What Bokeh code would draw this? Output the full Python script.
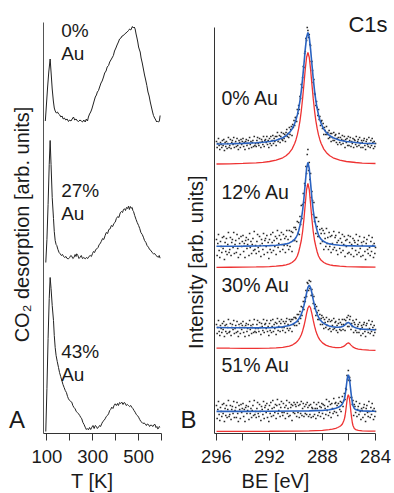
import numpy as np
from bokeh.plotting import figure
from bokeh.models import Range1d, FixedTicker, Label
from bokeh.layouts import row
from bokeh.embed import file_html
from bokeh.resources import INLINE

FONT = "Liberation Sans"
INK = "#1a1a1a"

# ---------------- Panel A: CO2 TPD ----------------
tpd_names = [("0%", "Au"), ("27%", "Au"), ("43%", "Au")]
tpd_offset = [311.5, 174.0, 0.0]
tpd_ticks = [100, 200, 300, 400, 500, 600]
tpd_tick_labels = {100: "100", 200: "", 300: "300", 400: "", 500: "500", 600: ""}

tpd0_T = [93, 98, 103, 108, 114, 118, 123, 128, 132, 136, 141, 146, 151, 156, 161, 166, 171, 176, 182, 188,
          194, 199, 205, 210, 216, 221, 227, 233, 238, 244, 250, 255, 261, 267, 272, 277, 281, 286, 291, 296,
          301, 306, 311, 316, 320, 325, 330, 336, 341, 347, 352, 358, 363, 369, 374, 379, 384, 390, 395, 401,
          406, 412, 417, 423, 428, 434, 439, 445, 450, 456, 461, 466, 470, 473, 477, 481, 485, 489, 493, 496.5,
          500, 504, 507, 511, 516, 521, 526, 531, 536, 541, 546, 551, 556, 561, 565, 570, 575, 579, 583, 587,
          590, 592, 594]
tpd0_s = [1, 18, 35, 50, 63, 50, 33, 21, 14, 11, 9, 10, 8, 7, 5, 6, 3, 4, 2, 3,
          0.5, 2, 1, 3, 5, 2, 3, 1, 0.5, 2, 1, 0, 2, 0, 3, 1, 5, 8, 10, 13,
          17, 21, 25, 27, 30, 31.5, 35, 39, 41, 45, 49, 51, 55, 56.5, 60, 62, 64, 66.5, 71, 74,
          77, 80, 83, 84, 86, 86.5, 88, 89, 90, 91.5, 93, 92, 94, 95.5, 94, 95, 93, 88, 84, 80,
          75, 72, 70, 64, 59, 53, 47, 42, 36.5, 30, 26, 20, 15, 10, 6.5, 4, 2, 0, 1, 0,
          0.5, 3, 6.5]

tpd1_T = [95, 100, 105, 110, 114, 118, 123, 128.6, 132, 136, 140, 143, 148, 153, 158, 163, 168, 172, 177, 183,
          188, 194, 199, 204, 208.5, 213, 218, 223, 227, 230, 235, 240, 245, 250, 255, 261, 267, 272, 278, 283,
          289, 294, 299, 303, 308, 313, 318, 323, 328, 332, 337, 343, 348, 354, 359, 365, 370, 376, 381, 387,
          392, 398, 403, 409, 414, 420, 425, 430, 434, 438.5, 443, 447, 452, 456, 460, 464, 468, 472, 475, 478,
          483, 489, 494, 500, 505, 510, 516, 521, 526, 532, 537, 543, 548, 554, 559, 565, 570, 576, 581, 587,
          590, 594]
tpd1_s = [-3, 20, 55, 95, 119, 95, 62, 41, 28, 19, 15, 14, 10, 7, 5.7, 4, 5, 3.3, 2, 3,
          1, 0.7, 2, 4, 3.3, 1, 2, 5, 3, 5.7, 4, 1, 2.3, 4, 1, 2, 0.7, 2, 1, 3,
          4, 3, 6, 8, 7, 10, 10.7, 12, 15, 15.7, 18, 21, 20, 24, 27, 26, 30, 30.7, 34, 33,
          36, 37.3, 41, 43, 42, 46.7, 48, 47, 50, 50.7, 49, 52, 51, 53.3, 50, 53, 51.3, 52, 49, 48,
          44, 40, 37, 34, 31, 27, 25, 22.3, 19, 17, 14, 12.3, 10, 9, 7, 5.7, 6, 4, 3, 2.3,
          4, 1.3]

tpd2_T = [95, 100, 105, 110, 114, 118, 123, 128.6, 132, 136, 140, 145, 150.5, 155, 160, 165, 170, 175, 180, 185,
          190, 194, 199, 204, 208.5, 213, 218, 223, 228, 233, 238, 243, 248, 252, 257, 262, 267, 272, 276, 281,
          286, 291, 296, 301, 306, 311, 316, 320, 325, 330, 334, 339, 344, 349, 354, 359, 364, 369, 374, 378,
          383, 388, 393, 398, 403, 408, 412, 417, 422, 427, 432, 437, 441.5, 446, 451, 456, 461, 466, 470, 475,
          480, 485, 490, 495, 500, 505, 510, 514, 519, 524, 529, 534, 538, 543, 548, 553, 558, 563, 568, 572,
          576, 580, 583, 587, 590, 594]
tpd2_s = [2, 45, 95, 135, 156, 145, 128, 113, 98, 86, 78, 72, 66, 61, 57, 53, 49, 46, 43, 41,
          37, 34.7, 33, 32, 31.3, 28, 26, 24.7, 22, 21, 19.7, 18, 16, 14.7, 11, 9, 6.3, 4, 5, 3.7,
          6, 4, 6.3, 8, 5, 8, 7, 5, 6.3, 8, 7, 9.7, 12, 13, 14.7, 17, 18, 19.7, 23, 24,
          26.3, 25, 28, 29.7, 28, 30, 28, 31, 30, 31.3, 29, 31, 30.3, 28, 29, 28, 27, 28, 26.3, 25,
          23, 21.3, 19, 18, 16.3, 14, 12, 11.3, 10, 10.5, 9.7, 8, 9.5, 9, 7, 8.5, 8, 7, 9, 9,
          6, 7, 4.7, 5, 7, 6.3]

# ---------------- Panel B: XPS C1s ----------------
xps_names = ["0% Au", "12% Au", "30% Au", "51% Au"]
xps_red_offset = [269, 166, 83, 2]
xps_background = [20, 21, 20.5, 20]
xps_ticks = [296, 294, 292, 290, 288, 286, 284]
xps_tick_labels = {296: "296", 294: "", 292: "292", 290: "", 288: "288", 286: "", 284: "284"}

be_s01 = [296, 295, 294, 293, 292.5, 292, 291.5, 291, 290.75, 290.5, 290.3, 290.1, 290.0, 289.9, 289.8, 289.7,
          289.6, 289.5, 289.4, 289.3, 289.2, 289.1, 289.0, 288.9, 288.8, 288.7, 288.6, 288.5, 288.4, 288.3,
          288.2, 288.1, 287.9, 287.7, 287.45, 287.2, 286.7, 286.2, 285.5, 285, 284]
comp_0 = [0.5, 0.7, 1.1, 1.7, 2.2, 3.0, 4.3, 6.7, 8.7, 11.8, 15.4, 21.0, 24.8, 29.6, 35.8, 43.7,
          53.7, 66.1, 80.5, 95.4, 107.3, 112.0, 107.3, 95.4, 80.5, 66.1, 53.7, 43.7, 35.8, 29.6,
          24.8, 21.0, 15.4, 11.8, 8.7, 6.7, 4.3, 3.0, 2.0, 1.3, 1.0]
comp_1 = [0.2, 0.25, 0.35, 0.55, 0.7, 0.9, 1.3, 2.0, 2.6, 3.6, 5.0, 7.2, 9.0, 11.5, 15.5, 21.0,
          27.0, 36.0, 48.5, 63.5, 78.0, 84.0, 78.0, 63.5, 48.5, 36.0, 27.0, 21.0, 15.5, 11.5,
          9.0, 7.2, 5.0, 3.6, 2.6, 2.0, 1.3, 0.9, 0.6, 0.5, 0.35]
be_s2 = [296, 295, 294, 293, 292, 291.5, 291, 290.5, 290.25, 290.0, 289.9, 289.8, 289.7, 289.6, 289.5,
         289.4, 289.3, 289.2, 289.1, 289.0, 288.9, 288.8, 288.7, 288.6, 288.5, 288.4, 288.3, 288.2, 288.0,
         287.75, 287.5, 287.25, 287.0, 286.8, 286.6, 286.45, 286.35, 286.25, 286.15, 286.05, 285.95,
         285.85, 285.75, 285.65, 285.5, 285.3, 285.0, 284.5, 284]
comp_2 = [2.47, 2.3, 2.19, 2.15, 2.32, 2.59, 3.17, 4.45, 5.71, 7.87, 9.16, 10.82, 12.99, 15.82, 19.59,
          24.47, 30.45, 37.03, 42.5, 44.78, 42.46, 36.94, 30.32, 24.3, 19.48, 15.66, 12.79, 10.59, 7.59,
          5.39, 4.07, 3.29, 2.89, 2.82, 3.12, 3.79, 4.58, 5.73, 6.99, 7.56, 6.83,
          5.41, 4.09, 3.11, 2.17, 1.48, 0.91, 0.44, 0.16]
be_s3 = [296, 294, 292, 290, 289, 288.5, 288, 287.5, 287.25, 287.0, 286.85, 286.7, 286.6, 286.5, 286.4,
         286.35, 286.3, 286.25, 286.2, 286.15, 286.1, 286.05, 286.0, 285.95, 285.9, 285.85, 285.8, 285.75,
         285.7, 285.6, 285.5, 285.3, 285.0, 284.5, 284]
comp_3 = [0.1, 0.15, 0.25, 0.45, 0.6, 0.85, 1.05, 1.8, 2.4, 3.2, 4.0, 5.0, 6.0, 7.5, 10.5,
          12.5, 15.5, 20.0, 25.5, 31.0, 35.0, 36.7, 35.0, 31.0, 25.0, 19.0, 13.5, 9.0,
          6.0, 3.0, 1.9, 1.1, 0.65, 0.4, 0.3]

# measured points, 296 -> 284 eV in 0.05 eV steps
dots_0 = [292, 286, 290, 295, 288, 284, 291, 289, 286, 293, 288, 294, 283, 291, 287, 292, 285, 290, 296, 286,
          288, 294, 285, 291, 293, 289, 296, 286, 290, 292, 287, 295, 288, 284, 293, 291, 286, 294, 289, 292,
          295, 287, 291, 284, 292, 294, 288, 290, 293, 285, 296, 289, 292, 286, 291, 293, 287, 297, 288, 290,
          287, 293, 296, 290, 288, 295, 291, 286, 294, 292, 289, 297, 287, 293, 294, 291, 297, 289, 293, 286,
          295, 290, 297, 288, 293, 298, 290, 295, 292, 297, 288, 297, 301, 292, 294, 298, 291, 297, 301, 294,
          293, 300, 295, 299, 292, 301, 304, 297, 300, 296, 306, 299, 304, 307, 298, 309, 306, 313, 308, 316,
          316, 312, 324, 320, 328, 324, 337, 335, 349, 346, 356, 367, 366, 380, 382, 395, 393, 406, 403, 396,
          399, 389, 388, 372, 372, 363, 351, 354, 340, 339, 328, 332, 326, 318, 324, 314, 317, 308, 312, 313,
          305, 310, 299, 306, 303, 299, 307, 299, 301, 295, 303, 296, 300, 292, 300, 296, 293, 301, 293, 298,
          299, 291, 295, 289, 296, 300, 291, 296, 289, 294, 298, 290, 293, 297, 286, 294, 291, 295, 288, 297,
          288, 293, 296, 287, 292, 290, 295, 286, 294, 293, 289, 297, 287, 292, 294, 288, 296, 290, 286, 293,
          291, 286, 293, 295, 288, 284, 292, 294, 289, 287, 296, 290, 286, 293, 288, 295, 291, 285, 292, 287,
          290]
dots_1 = [194, 178, 190, 199, 183, 176, 192, 187, 181, 196, 185, 197, 174, 191, 182, 195, 179, 189, 201, 181,
          184, 196, 178, 191, 194, 186, 201, 180, 189, 193, 181, 199, 185, 176, 195, 190, 179, 197, 187, 192,
          198, 182, 190, 176, 193, 196, 185, 189, 194, 178, 200, 186, 192, 180, 189, 195, 183, 202, 184, 188,
          180, 192, 199, 186, 182, 197, 188, 177, 194, 190, 184, 200, 179, 193, 195, 187, 198, 181, 191, 175,
          194, 184, 199, 181, 191, 201, 183, 193, 187, 197, 179, 195, 203, 186, 190, 198, 182, 194, 201, 189,
          184, 199, 188, 195, 181, 197, 203, 188, 194, 184, 203, 187, 197, 202, 182, 201, 193, 206, 193, 206,
          204, 192, 212, 200, 211, 199, 217, 209, 228, 215, 229, 240, 231, 250, 248, 267, 260, 279, 284, 263,
          271, 254, 260, 236, 242, 233, 219, 231, 212, 216, 200, 216, 207, 197, 212, 197, 204, 190, 200, 205,
          192, 203, 184, 200, 195, 187, 205, 190, 196, 184, 201, 187, 197, 181, 198, 190, 184, 202, 186, 196,
          198, 183, 191, 179, 193, 201, 185, 195, 181, 191, 199, 183, 189, 197, 177, 193, 187, 194, 180, 198,
          181, 191, 197, 179, 189, 185, 195, 177, 193, 191, 183, 199, 179, 189, 193, 181, 197, 185, 177, 191,
          188, 178, 192, 196, 182, 174, 190, 194, 184, 180, 198, 186, 178, 192, 182, 196, 188, 176, 190, 180,
          186]
dots_2 = [109, 100, 106, 113, 102, 98, 108, 105, 101, 110, 104, 112, 97, 108, 102, 109, 100, 106, 114, 101,
          102, 110, 98, 106, 109, 104, 113, 100, 105, 108, 101, 112, 102, 97, 109, 106, 100, 110, 104, 108,
          112, 101, 106, 97, 108, 110, 102, 105, 109, 98, 113, 104, 108, 100, 106, 109, 101, 114, 102, 105,
          101, 109, 113, 105, 102, 111, 106, 99, 110, 107, 103, 114, 101, 109, 110, 105, 113, 102, 107, 98,
          110, 103, 113, 101, 107, 114, 102, 109, 105, 111, 99, 110, 115, 103, 107, 112, 102, 110, 114, 106,
          103, 112, 106, 110, 101, 112, 115, 105, 109, 103, 114, 105, 112, 114, 102, 114, 109, 116, 108, 116,
          115, 108, 119, 112, 119, 110, 122, 115, 127, 118, 126, 132, 124, 136, 132, 143, 137, 151, 150, 143,
          153, 145, 152, 138, 144, 139, 130, 137, 125, 129, 118, 127, 121, 114, 123, 114, 119, 109, 115, 118,
          109, 116, 105, 114, 111, 106, 116, 108, 112, 104, 114, 105, 112, 102, 113, 108, 104, 115, 105, 111,
          112, 103, 108, 101, 110, 114, 104, 111, 103, 109, 114, 104, 109, 114, 103, 113, 110, 116, 107, 118,
          107, 114, 117, 104, 110, 107, 113, 101, 111, 109, 103, 114, 101, 107, 109, 101, 111, 104, 98, 108,
          106, 100, 109, 111, 102, 97, 108, 110, 104, 101, 113, 105, 100, 109, 102, 112, 106, 98, 108, 101,
          104]
dots_3 = [28, 15, 24, 32, 19, 13, 26, 22, 17, 29, 20, 30, 12, 25, 18, 28, 16, 24, 33, 17,
          19, 28, 14, 24, 27, 20, 32, 16, 23, 26, 16, 31, 20, 12, 28, 24, 15, 29, 21, 25,
          30, 17, 24, 12, 26, 28, 20, 23, 27, 14, 32, 20, 25, 16, 23, 28, 18, 33, 19, 22,
          16, 25, 31, 20, 17, 29, 22, 13, 27, 24, 19, 32, 15, 26, 28, 21, 30, 16, 24, 12,
          28, 20, 31, 17, 25, 33, 18, 26, 21, 29, 15, 28, 34, 20, 23, 29, 17, 26, 32, 21,
          18, 30, 21, 26, 15, 28, 33, 20, 25, 17, 31, 18, 26, 29, 13, 28, 21, 31, 20, 29,
          27, 17, 31, 21, 28, 16, 29, 20, 32, 18, 25, 30, 17, 27, 20, 29, 19, 31, 26, 17,
          28, 19, 29, 16, 26, 25, 17, 31, 19, 25, 15, 29, 25, 18, 31, 21, 27, 17, 26, 30,
          20, 29, 15, 28, 25, 19, 34, 23, 27, 18, 32, 21, 29, 16, 30, 25, 20, 35, 22, 30,
          31, 21, 28, 18, 30, 36, 24, 32, 22, 31, 37, 27, 33, 40, 34, 45, 44, 58, 54, 63,
          53, 56, 53, 36, 36, 29, 33, 18, 29, 27, 21, 32, 17, 24, 27, 19, 30, 22, 14, 25,
          23, 16, 26, 29, 19, 12, 25, 28, 21, 17, 32, 22, 16, 26, 19, 30, 23, 14, 25, 17,
          22]


def make_fig(width, xr, yr):
    p = figure(width=width, height=493, x_range=xr, y_range=yr, title_location=None,
               output_backend="svg", toolbar_location=None,
               min_border_left=0, min_border_right=0, min_border_top=0, min_border_bottom=0)
    p.xgrid.visible = False
    p.ygrid.visible = False
    p.outline_line_color = None
    p.background_fill_color = "white"
    p.border_fill_color = "white"
    return p


def style_axes(p, x_loc, x_bounds, y_loc, y_bounds, yline_color, ticks, tick_labels):
    ax = p.xaxis[0]
    ax.fixed_location = x_loc
    ax.bounds = x_bounds
    ax.ticker = FixedTicker(ticks=ticks)
    ax.major_label_overrides = tick_labels
    ax.axis_line_color = "#333333"
    ax.axis_line_width = 1
    ax.major_tick_line_color = "#333333"
    ax.major_tick_in = 0
    ax.major_tick_out = 7
    ax.minor_tick_line_color = None
    ax.major_label_text_font = FONT
    ax.major_label_text_font_size = "18.5px"
    ax.major_label_text_color = INK
    ax.major_label_standoff = 9
    ay = p.yaxis[0]
    ay.fixed_location = y_loc
    ay.bounds = y_bounds
    ay.ticker = FixedTicker(ticks=[])
    ay.major_tick_line_color = None
    ay.minor_tick_line_color = None
    ay.major_label_text_font_size = "0px"
    ay.axis_line_color = yline_color
    ay.axis_line_width = 1


def add_text(p, x, y, text, size, angle=0.0, align="left"):
    p.add_layout(Label(x=x, y=y, text=text, text_font=FONT, text_font_size=size,
                       text_color=INK, angle=angle, text_align=align,
                       text_baseline="alphabetic"))


# ---- figure A ----
pA = make_fig(178, Range1d(-102.67, 674.2), Range1d(-60, 433))
style_axes(pA, 0, (85, 600), 85, (0, 411), "#555555", tpd_ticks, tpd_tick_labels)

for T, s, off in zip([tpd0_T, tpd1_T, tpd2_T], [tpd0_s, tpd1_s, tpd2_s], tpd_offset):
    pA.line(T, [v + off for v in s], line_color="#222222", line_width=1.0)

label_rows_A = [(403.5, 380.5), (243.5, 220.5), (82.5, 59.0)]
for (l1, l2), (y1, y2) in zip(tpd_names, label_rows_A):
    add_text(pA, 162, y1, l1, "19px")
    add_text(pA, 162, y2, l2, "19px")

add_text(pA, -66, 14, "A", "24px")
add_text(pA, 297.5, -47, "T [K]", "20px", align="center")
add_text(pA, -6.7, 209, "CO\u2082 desorption [arb. units]", "20px", angle=np.pi / 2, align="center")

# ---- figure B ----
pB = make_fig(216, Range1d(298.867, 282.566), Range1d(-60, 433))
style_axes(pB, 0, (284, 296.15), 296.15, (0, 406), "#333333", xps_ticks, xps_tick_labels)

be_grid = np.linspace(296.0, 284.0, len(dots_0))
curves = [(be_s01, comp_0), (be_s01, comp_1), (be_s2, comp_2), (be_s3, comp_3)]
all_dots = [dots_0, dots_1, dots_2, dots_3]
for (be, comp), dots, off, bg in zip(curves, all_dots, xps_red_offset, xps_background):
    pB.scatter(be_grid, dots, marker="square", size=1.6, fill_color="#2a2a2a", line_color=None)
    pB.line(be, [off + c for c in comp], line_color="#ee3333", line_width=1.3)
    pB.line(be, [off + bg + c for c in comp], line_color="#2a62c0", line_width=1.6)

label_y_B = [335.5, 241.5, 149.0, 69.0]
for name, y in zip(xps_names, label_y_B):
    add_text(pB, 295.62, y, name, "19.5px")

add_text(pB, 286.04, 409, "C1s", "22px", align="left")
add_text(pB, 298.716, 14, "B", "24px")
add_text(pB, 291.547, -47, "BE [eV]", "20px", align="center")
add_text(pB, 297.51, 171.3, "Intensity [arb. units]", "20px", angle=np.pi / 2, align="center")

layout = row(pA, pB)
open("out.html", "w").write(file_html(layout, INLINE))
